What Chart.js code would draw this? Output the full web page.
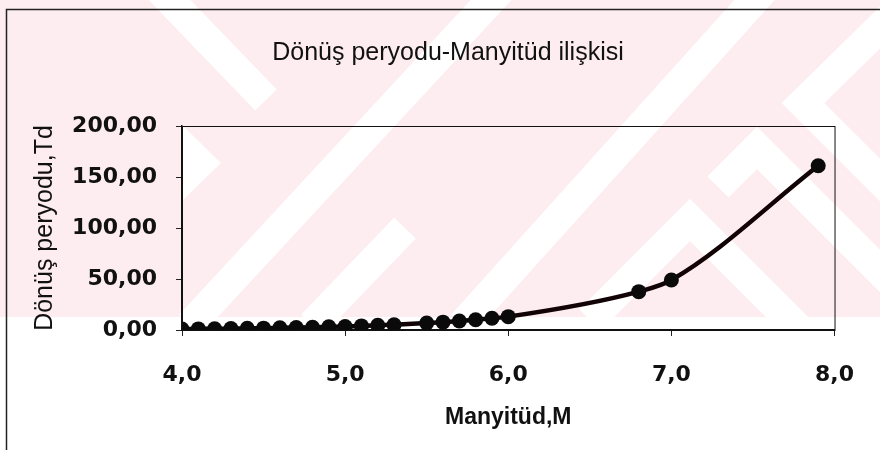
<!DOCTYPE html>
<html><head><meta charset="utf-8">
<script src="https://cdn.jsdelivr.net/npm/chart.js@4/dist/chart.umd.min.js"></script>
<style>html,body{margin:0;padding:0;background:#fff}#wrap{width:880px;height:450px}</style>
</head><body><div id="wrap"><canvas id="c" width="880" height="450"></canvas></div>
<script>
// ---- data ----
const magnitudes    = [4.0, 4.1, 4.2, 4.3, 4.4, 4.5, 4.6, 4.7, 4.8, 4.9, 5.0, 5.1, 5.2, 5.3,
                       5.5, 5.6, 5.7, 5.8, 5.9, 6.0, 6.8, 7.0, 7.9];
const returnPeriods = [0.9, 1.1, 1.2, 1.4, 1.6, 1.8, 2.1, 2.4, 2.7, 3.1, 3.5, 4.0, 4.6, 5.2,
                       6.8, 7.7, 8.8, 10.1, 11.5, 13.1, 37.6, 49.0, 161.0];
const xTickValues = [4, 5, 6, 7, 8];
const xTickLabels = ['4,0', '5,0', '6,0', '7,0', '8,0'];
const yTickValues = [0, 50, 100, 150, 200];
const yTickLabels = ['0,00', '50,00', '100,00', '150,00', '200,00'];
const chartTitle = 'Dönüş peryodu-Manyitüd ilişkisi';
const xTitle = 'Manyitüd,M';
const yTitle = 'Dönüş peryodu,Td';

const points = magnitudes.map((m, i) => ({x: m, y: returnPeriods[i]}));

const backdrop = {
  id: 'backdrop',
  beforeDraw(chart) {
    const ctx = chart.ctx;
    ctx.save();
    ctx.fillStyle = '#ffffff';
    ctx.fillRect(0, 0, 880, 450);
    ctx.beginPath(); ctx.rect(0, 0, 880, 317); ctx.clip();
    ctx.fillStyle = '#fdedf0';
    ctx.fillRect(0, 0, 880, 317);
    ctx.strokeStyle = '#ffffff';
    ctx.fillStyle = '#ffffff';
    ctx.lineWidth = 30;
    ctx.lineCap = 'butt';
    ctx.lineJoin = 'miter';
    const bands = [
      [[160, -10], [266, 100]],
      [[505, -15], [190, 325]],
      [[768, -15], [462, 325]],
      [[405, 228], [312, 325]],
      [[905, 3], [803, 103], [905, 205]],
      [[718, 187], [757, 148], [900, 291]],
      [[590, 320], [690, 220], [800, 330]]
    ];
    bands.forEach(b => {
      ctx.beginPath();
      ctx.moveTo(b[0][0], b[0][1]);
      for (let i = 1; i < b.length; i++) ctx.lineTo(b[i][0], b[i][1]);
      ctx.stroke();
    });
    ctx.beginPath();
    ctx.moveTo(183, 126); ctx.lineTo(221, 163); ctx.lineTo(183, 200); ctx.closePath();
    ctx.fill();
    ctx.restore();
    // outer frame
    ctx.save();
    ctx.strokeStyle = '#222';
    ctx.lineWidth = 1.5;
    ctx.beginPath();
    ctx.moveTo(6.5, 450); ctx.lineTo(6.5, 9.5); ctx.lineTo(880, 9.5);
    ctx.stroke();
    ctx.restore();
  },
  beforeDatasetsDraw(chart) {
    const a = chart.chartArea, ctx = chart.ctx;
    ctx.save();
    ctx.strokeStyle = '#111';
    ctx.lineWidth = 1;
    ctx.strokeRect(a.left + 0.5, a.top + 0.5, a.right - a.left, a.bottom - a.top);
    ctx.restore();
  }
};

new Chart(document.getElementById('c'), {
  type: 'line',
  data: {
    datasets: [{
      data: points,
      borderColor: '#120406',
      backgroundColor: '#000',
      borderWidth: 4.5,
      pointRadius: 7.5,
      pointBorderWidth: 0,
      pointBackgroundColor: '#0a0a0a',
      cubicInterpolationMode: 'monotone',
      fill: false
    }]
  },
  options: {
    responsive: false,
    animation: false,
    devicePixelRatio: 1,
    layout: {padding: {left: 16, right: 0, top: 0, bottom: 0}},
    plugins: {
      legend: {display: false},
      tooltip: {enabled: false},
      title: {
        display: true,
        text: chartTitle,
        color: '#111',
        font: {family: 'Liberation Sans', size: 25, weight: 'normal', lineHeight: 1.2},
        padding: {top: 38, bottom: 58}
      }
    },
    scales: {
      x: {
        type: 'linear',
        min: 4, max: 8,
        afterFit(s) { s.height = 120; },
        afterBuildTicks(s) { s.ticks = xTickValues.map(v => ({value: v})); },
        ticks: {
          color: '#111',
          padding: 26,
          font: {family: 'DejaVu Sans', size: 22, weight: 'bold', lineHeight: 1.2},
          callback: (v) => { const i = xTickValues.indexOf(v); return i >= 0 ? xTickLabels[i] : ''; }
        },
        grid: {display: true, drawOnChartArea: false, drawTicks: true, tickLength: 6, color: '#222', lineWidth: 1},
        border: {display: true, color: '#111', width: 1.5},
        title: {
          display: true, text: xTitle, color: '#111',
          font: {family: 'Liberation Sans', size: 23, weight: 'bold', lineHeight: 1.2},
          padding: {top: 0, bottom: 19}
        }
      },
      y: {
        type: 'linear',
        min: 0, max: 200,
        afterFit(s) { s.width = 166; },
        afterBuildTicks(s) { s.ticks = yTickValues.map(v => ({value: v})); },
        ticks: {
          color: '#111',
          padding: 19,
          font: {family: 'DejaVu Sans', size: 22, weight: 'bold', lineHeight: 1.2},
          callback: (v) => { const i = yTickValues.indexOf(v); return i >= 0 ? yTickLabels[i] : ''; }
        },
        grid: {display: true, drawOnChartArea: false, drawTicks: true, tickLength: 6, color: '#222', lineWidth: 1},
        border: {display: true, color: '#111', width: 1.5},
        title: {
          display: true, text: yTitle, color: '#111',
          font: {family: 'Liberation Sans', size: 25, weight: 'normal', lineHeight: 1.2},
          padding: {top: 14, bottom: 0}
        }
      },
      yR: {
        type: 'linear',
        position: 'right',
        display: true,
        afterFit(s) { s.width = 44; },
        ticks: {display: false},
        grid: {display: false},
        border: {display: false}
      }
    }
  },
  plugins: [backdrop]
});
</script>
</body></html>
